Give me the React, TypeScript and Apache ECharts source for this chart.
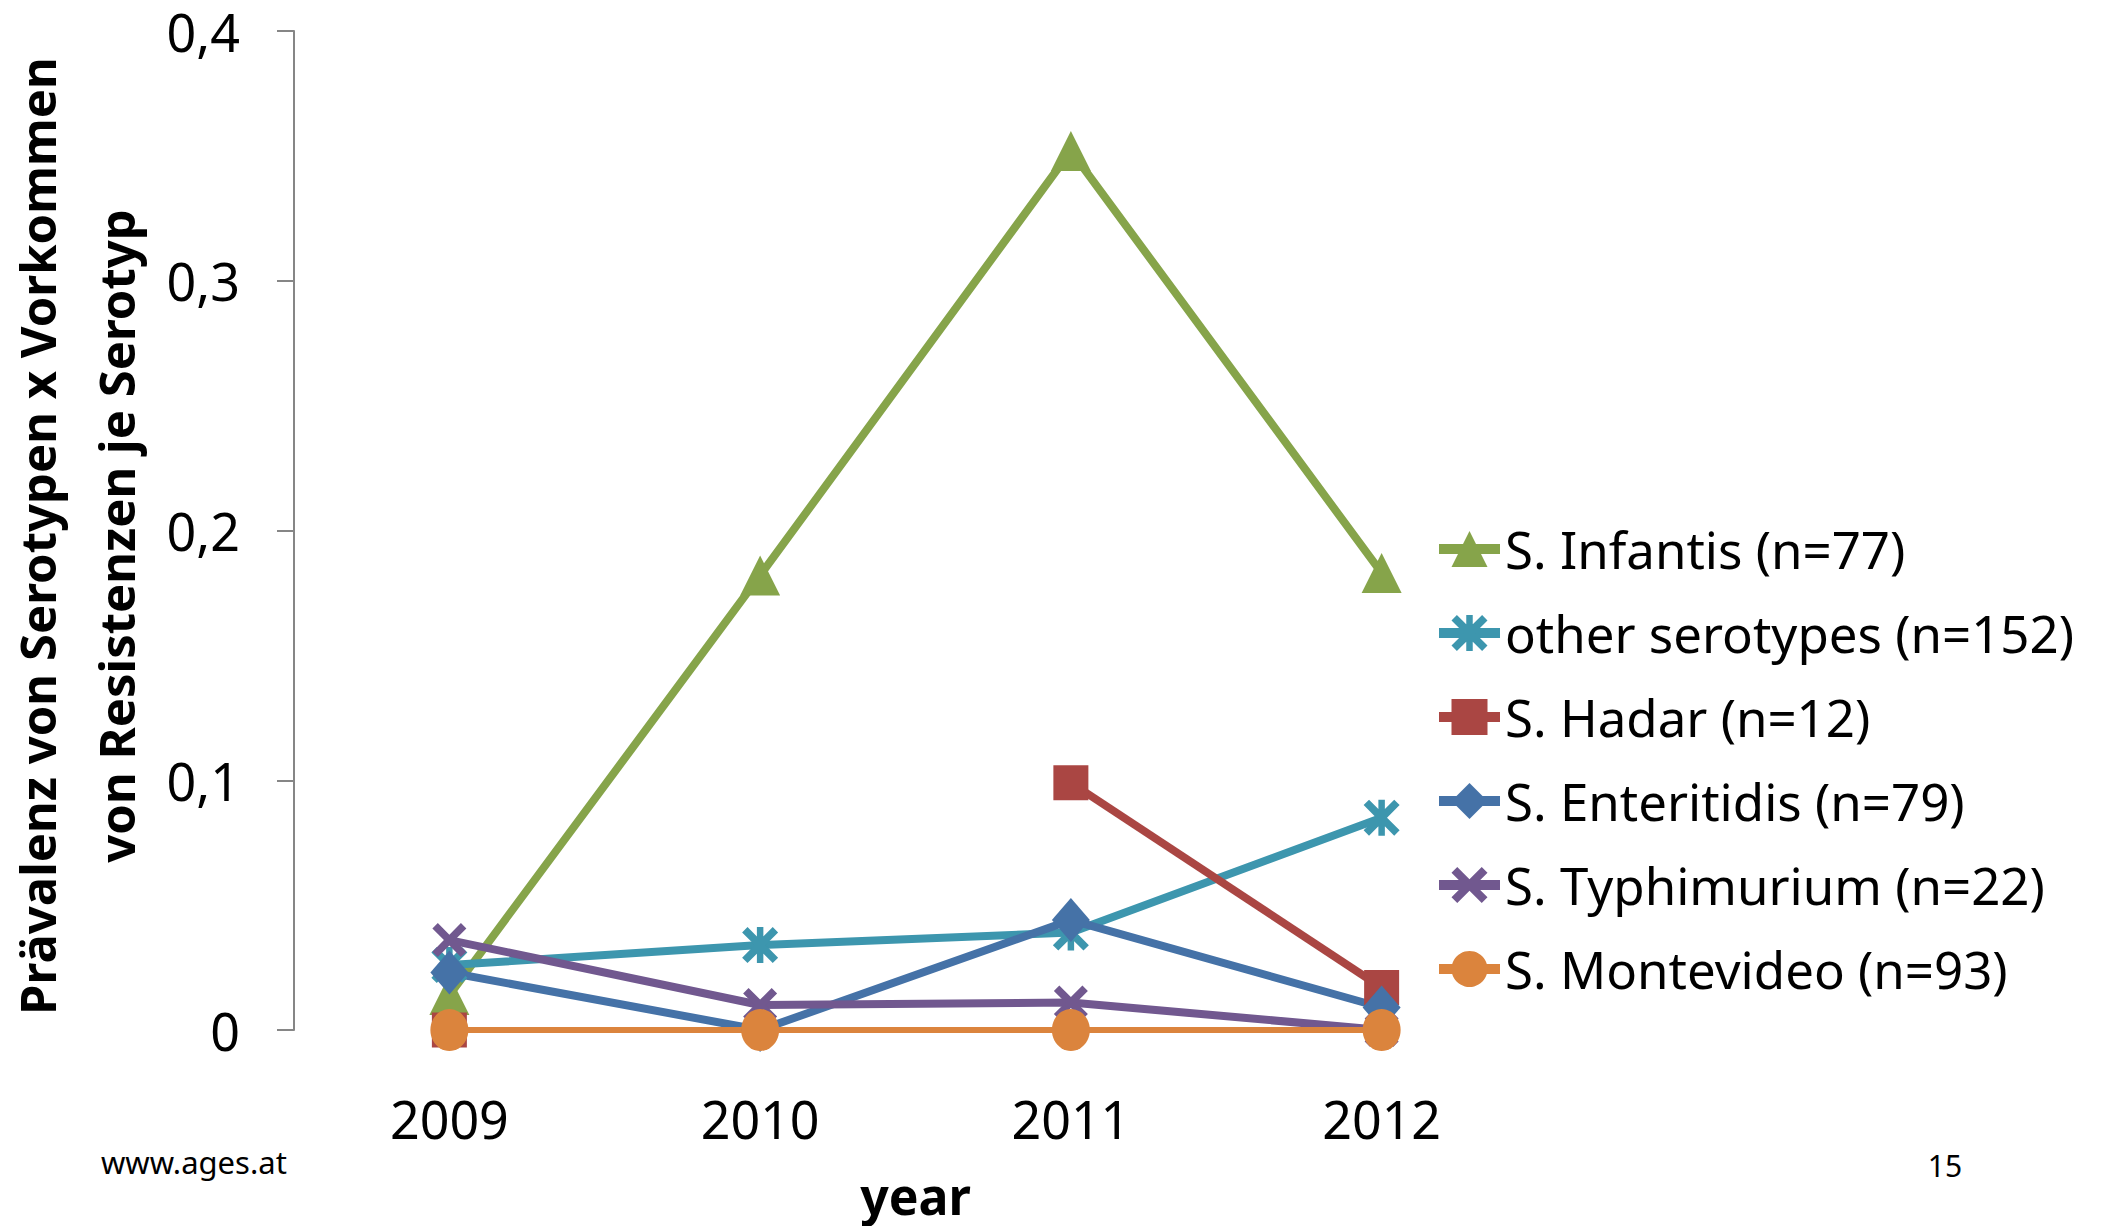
import React, { useEffect, useRef } from "react";
import * as echarts from "echarts";

const categories = ["2009", "2010", "2011", "2012"];
const infantis = [0.014, 0.182, 0.352, 0.183];
const otherSerotypes = [0.026, 0.034, 0.039, 0.085];
const hadar = [0, null, 0.099, 0.017];
const enteritidis = [0.023, 0, 0.044, 0.009];
const typhimurium = [0.036, 0.01, 0.011, 0];
const montevideo = [0, 0, 0, 0];

const seriesNames = [
  "S. Infantis (n=77)",
  "other serotypes (n=152)",
  "S. Hadar (n=12)",
  "S. Enteritidis (n=79)",
  "S. Typhimurium (n=22)",
  "S. Montevideo (n=93)",
];

const xPath =
  "path://M0,1.6 L1.6,0 L5,3.4 L8.4,0 L10,1.6 L6.6,5 L10,8.4 L8.4,10 L5,6.6 L1.6,10 L0,8.4 L3.4,5 Z";
const starPath =
  "path://M0,1.5 L1.5,0 L5,3.5 L8.5,0 L10,1.5 L6.5,5 L10,8.5 L8.5,10 L5,6.5 L1.5,10 L0,8.5 L3.5,5 Z M4.1,0 L5.9,0 L5.9,10 L4.1,10 Z";

const FONT = "Noto Sans";

export default function App() {
  const ref = useRef<HTMLDivElement>(null);
  useEffect(() => {
    if (!ref.current) return;
    const chart = echarts.init(ref.current, undefined, { renderer: "svg" });
    const mk = (
      name: string,
      data: (number | null)[],
      color: string,
      symbol: string,
      symbolSize: number | number[],
      width = 8
    ) => ({
      name,
      type: "line",
      data,
      symbol,
      symbolSize,
      showAllSymbol: true,
      connectNulls: false,
      lineStyle: { width, color },
      itemStyle: { color },
      emphasis: { disabled: true },
    });
    chart.setOption({
      animation: false,
      backgroundColor: "#ffffff",
      textStyle: { fontFamily: FONT },
      grid: { left: 294, right: 564, top: 31, bottom: 181, containLabel: false },
      legend: {
        orient: "vertical",
        left: 1434,
        top: 523,
        padding: 0,
        itemWidth: 61,
        itemHeight: 45,
        itemGap: 32,
        lineStyle: { width: 10 },
        textStyle: { fontFamily: FONT, fontSize: 51, lineHeight: 52, color: "#000" },
        data: seriesNames,
      },
      xAxis: {
        type: "category",
        data: categories,
        boundaryGap: true,
        axisLine: { show: false },
        axisTick: { show: false },
        axisLabel: { fontFamily: FONT, fontSize: 52, color: "#000", margin: 62 },
        name: "year",
        nameLocation: "middle",
        nameGap: 141,
        nameTextStyle: { fontFamily: FONT, fontSize: 50, fontWeight: "bold", color: "#000" },
      },
      yAxis: {
        type: "value",
        min: 0,
        max: 0.4,
        interval: 0.1,
        splitLine: { show: false },
        axisLine: { show: true, lineStyle: { color: "#868686", width: 2 } },
        axisTick: { show: true, length: 17, lineStyle: { color: "#868686", width: 2 } },
        axisLabel: {
          fontFamily: FONT,
          fontSize: 52,
          color: "#000",
          margin: 54,
          formatter: (v: number) => (v === 0 ? "0" : v.toFixed(1).replace(".", ",")),
        },
      },
      graphic: [
        {
          type: "text",
          x: 76,
          y: 536,
          rotation: Math.PI / 2,
          style: {
            text: "Prävalenz von Serotypen x Vorkommen\nvon Resistenzen je Serotyp",
            fontFamily: FONT,
            fontSize: 49,
            fontWeight: "bold",
            lineHeight: 79,
            fill: "#000",
            align: "center",
            verticalAlign: "middle",
          },
        },
        {
          type: "text",
          x: 101,
          y: 1162,
          style: {
            text: "www.ages.at",
            fontFamily: FONT,
            fontSize: 31,
            fill: "#000",
            align: "left",
            verticalAlign: "middle",
          },
        },
        {
          type: "text",
          x: 1945,
          y: 1165,
          style: {
            text: "15",
            fontFamily: FONT,
            fontSize: 30,
            fill: "#000",
            align: "center",
            verticalAlign: "middle",
          },
        },
      ],
      series: [
        mk(seriesNames[0], infantis, "#86A44A", "triangle", 40),
        mk(seriesNames[1], otherSerotypes, "#3D96AE", starPath, 36),
        mk(seriesNames[2], hadar, "#AA4643", "rect", 35),
        mk(seriesNames[3], enteritidis, "#4572A7", "diamond", [38, 44]),
        mk(seriesNames[4], typhimurium, "#71588F", xPath, 34),
        mk(seriesNames[5], montevideo, "#DB843D", "circle", [38, 42], 6),
      ],
    });
    return () => chart.dispose();
  }, []);
  return (
    <div
      ref={ref}
      style={{ position: "fixed", left: 0, top: 0, width: 2101, height: 1226 }}
    />
  );
}
